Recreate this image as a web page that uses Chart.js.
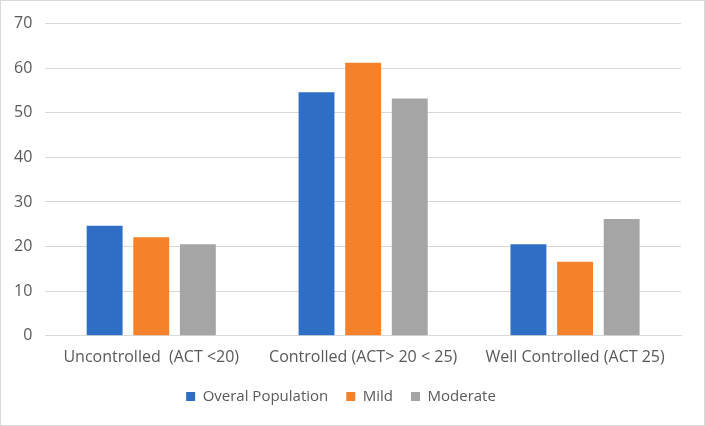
<!DOCTYPE html>
<html>
<head>
<meta charset="utf-8">
<script src="https://cdn.jsdelivr.net/npm/chart.js@4/dist/chart.umd.min.js"></script>
<style>
  html, body { margin: 0; padding: 0; background: #fff; }
  .wrap { position: relative; width: 703px; height: 424px; border: 1px solid #d9d9d9; }
</style>
</head>
<body>
<div class="wrap"><canvas id="chart"></canvas></div>
<script>
// chart data
const categories = ['Uncontrolled  (ACT <20)', 'Controlled (ACT> 20 < 25)', 'Well Controlled (ACT 25)'];
const overallPopulation = [24.7, 54.6, 20.5];
const mild = [22.1, 61.2, 16.6];
const moderate = [20.5, 53.2, 26.2];
const yTicks = [0, 10, 20, 30, 40, 50, 60, 70];

const colors = {
  overall: '#2e6ec4',
  mild: '#f5822a',
  moderate: '#a5a5a5',
  grid: '#d9d9d9',
  text: '#595959'
};

Chart.defaults.font.family = '"Open Sans", "Liberation Sans", sans-serif';
Chart.defaults.font.size = 15;
Chart.defaults.color = colors.text;

const ctx = document.getElementById('chart').getContext('2d');
new Chart(ctx, {
  type: 'bar',
  data: {
    labels: categories,
    datasets: [
      { label: 'Overal Population', data: overallPopulation, backgroundColor: colors.overall },
      { label: 'Mild', data: mild, backgroundColor: colors.mild },
      { label: 'Moderate', data: moderate, backgroundColor: colors.moderate }
    ]
  },
  options: {
    responsive: true,
    maintainAspectRatio: false,
    animation: false,
    categoryPercentage: 0.66,
    barPercentage: 0.77,
    layout: { padding: { top: 14, right: 23, left: 0, bottom: 11 } },
    scales: {
      x: {
        grid: { display: false },
        border: { display: true, color: colors.grid },
        ticks: { padding: 4, maxRotation: 0, font: { size: 16 } }
      },
      y: {
        min: 0,
        max: 70,
        afterBuildTicks: (axis) => { axis.ticks = yTicks.map(v => ({ value: v })); },
        grid: { color: colors.grid, drawTicks: false },
        border: { display: false },
        ticks: { padding: 13, font: { size: 16 } }
      }
    },
    plugins: {
      legend: {
        position: 'bottom',
        labels: { boxWidth: 9, boxHeight: 9, padding: 18 }
      },
      tooltip: { enabled: false }
    }
  }
});
</script>
</body>
</html>
